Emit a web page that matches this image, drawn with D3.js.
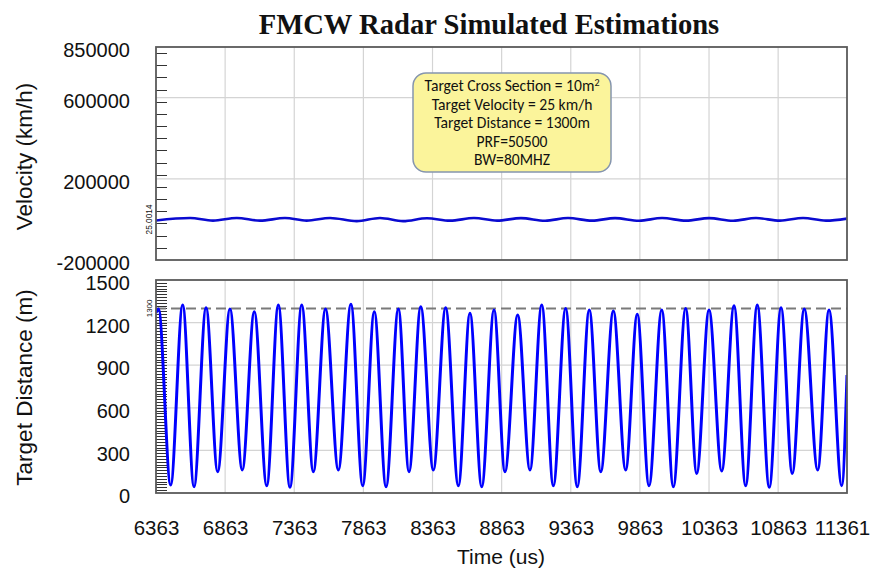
<!DOCTYPE html>
<html>
<head>
<meta charset="utf-8">
<script src="https://cdn.jsdelivr.net/npm/d3@7"></script>
<style>
  body { margin: 0; background: #fff; }
  svg text { font-family: "Liberation Sans", Arial, sans-serif; fill: #111; }
</style>
</head>
<body>
<svg id="chart" width="875" height="568"></svg>
<script>
'use strict';
// tick labels
const xTicks = [6363, 6863, 7363, 7863, 8363, 8863, 9363, 9863, 10363, 10863, 11361];
const velTicks = [-200000, 200000, 600000, 850000];
const distTicks = [0, 300, 600, 900, 1200, 1500];

// velocity estimate (km/h)
const velTime = [6363, 6609, 6775, 6947, 7115, 7296, 7453, 7622, 7815, 7983, 8150, 8323, 8490,
  8663, 8830, 9003, 9177, 9343, 9517, 9683, 9857, 10023, 10197, 10363, 10537, 10703, 10876,
  11043, 11209, 11361];
const velValue = [-5000, 6800, -6000, 6900, -6100, 6800, -6000, 6900, -8500, 6800, -8300, 6000, -6000,
  6800, -6000, 6500, -6500, 6800, -6000, 6600, -6500, 6800, -6000, 6600, -6500, 6800, -6000,
  6800, -6000, 4000];

// distance estimate (m), peaks and valleys
const distTime = [6363, 6381, 6469, 6556, 6638, 6725, 6809, 6898, 6987, 7074, 7164, 7248, 7332,
  7417, 7501, 7589, 7682, 7773, 7858, 7942, 8027, 8116, 8193, 8278, 8369, 8458, 8550, 8634,
  8719, 8808, 8887, 8979, 9068, 9153, 9237, 9326, 9410, 9497, 9580, 9671, 9760, 9844, 9929,
  10021, 10105, 10194, 10274, 10363, 10455, 10544, 10628, 10712, 10799, 10884, 10965, 11052,
  11149, 11231, 11323, 11361];
const distValue = [1270, 1296, 56, 1324, 44, 1305, 150, 1296, 162, 1277, 51, 1324, 40,
  1324, 150, 1296, 162, 1329, 51, 1277, 44, 1296, 150, 1312, 162, 1305, 51, 1265,
  44, 1289, 150, 1254, 162, 1324, 51, 1300, 44, 1289, 150, 1282, 162, 1259, 51,
  1289, 44, 1300, 138, 1289, 155, 1319, 51, 1324, 40, 1305, 138, 1296,
  162, 1289, 51, 831];

const trueVelocity = 25.0014;
const trueDistance = 1300;
const infoLines = ['Target Cross Section = 10m', 'Target Velocity = 25 km/h',
  'Target Distance = 1300m', 'PRF=50500', 'BW=80MHZ'];

const svg = d3.select('#chart');
const left = 156, right = 847;
const panels = [
  { top: 47, bottom: 260 },
  { top: 280, bottom: 493 }
];

const x = d3.scaleLinear().domain([6363, 11361]).range([left, right]);
const yVel = d3.scaleLinear().domain([-200000, 850000]).range([panels[0].bottom, panels[0].top]);
const yDist = d3.scaleLinear().domain([0, 1500]).range([panels[1].bottom, panels[1].top]);
const plain = d => String(d);

svg.append('text')
  .attr('x', 489).attr('y', 34)
  .attr('text-anchor', 'middle')
  .style('font-family', '"Liberation Serif", "Times New Roman", serif')
  .style('font-weight', 'bold')
  .style('font-size', '28.6px')
  .text('FMCW Radar Simulated Estimations');

function drawPanel(p, y, ticks, minor, idx) {
  const g = svg.append('g');
  // grid
  g.selectAll('line.vgrid').data(xTicks.slice(1, -1)).join('line')
    .attr('x1', d => x(d)).attr('x2', d => x(d))
    .attr('y1', p.top).attr('y2', p.bottom)
    .attr('stroke', '#d4d4d4').attr('stroke-width', 1.2);
  g.selectAll('line.hgrid').data(ticks.slice(1, -1)).join('line')
    .attr('x1', left).attr('x2', right)
    .attr('y1', d => y(d)).attr('y2', d => y(d))
    .attr('stroke', '#d4d4d4').attr('stroke-width', 1.2);
  // minor ticks on the inside of the left border
  g.selectAll('line.minor').data(minor).join('line')
    .attr('x1', left).attr('x2', left + 11)
    .attr('y1', d => Math.round(y(d)) + 0.5).attr('y2', d => Math.round(y(d)) + 0.5)
    .attr('stroke', '#333').attr('stroke-width', 1);
  // tick labels
  const ax = g.append('g')
    .attr('transform', `translate(${left},0)`)
    .call(d3.axisLeft(y).tickValues(ticks).tickSize(0).tickPadding(26).tickFormat(plain));
  ax.select('.domain').remove();
  ax.selectAll('text')
    .attr('dy', '0.48em')
    .style('font-family', '"Liberation Sans", Arial, sans-serif')
    .style('font-size', '20px')
    .attr('fill', '#111');
  g.append('clipPath').attr('id', 'clip' + idx)
    .append('rect')
    .attr('x', left).attr('y', p.top)
    .attr('width', right - left).attr('height', p.bottom - p.top);
  return g;
}

const velMinor = d3.range(-140000, 850000, 60000);
const distMinor = d3.range(20, 1500, 20);
const g1 = drawPanel(panels[0], yVel, velTicks, velMinor, 0);
const g2 = drawPanel(panels[1], yDist, distTicks, distMinor, 1);

// velocity series
g1.append('path')
  .datum(velTime.map((t, i) => [t, trueVelocity + velValue[i]]))
  .attr('clip-path', 'url(#clip0)')
  .attr('fill', 'none')
  .attr('stroke', '#0a0ad0')
  .attr('stroke-width', 2.6)
  .attr('d', d3.line().x(d => x(d[0])).y(d => yVel(d[1])).curve(d3.curveMonotoneX));

g1.append('text')
  .attr('transform', `translate(${left - 4},${yVel(trueVelocity)}) rotate(-90)`)
  .attr('text-anchor', 'middle')
  .style('font-size', '8.3px')
  .text(trueVelocity.toFixed(4));

// distance: true value (dashed) and estimate
g2.append('line')
  .attr('x1', left).attr('x2', right)
  .attr('y1', yDist(trueDistance)).attr('y2', yDist(trueDistance))
  .attr('stroke', '#7a7a7a').attr('stroke-width', 2)
  .attr('stroke-dasharray', '10,5');

g2.append('path')
  .datum(distTime.map((t, i) => [t, distValue[i]]))
  .attr('clip-path', 'url(#clip1)')
  .attr('fill', 'none')
  .attr('stroke', '#0000ff')
  .attr('stroke-width', 3)
  .attr('stroke-linejoin', 'round')
  .attr('d', d3.line().x(d => x(d[0])).y(d => yDist(d[1])).curve(d3.curveMonotoneX));

g2.append('text')
  .attr('transform', `translate(${left - 4},${yDist(trueDistance)}) rotate(-90)`)
  .attr('text-anchor', 'middle')
  .style('font-size', '8px')
  .text(trueDistance);

// plot frames
panels.forEach(p => {
  svg.append('rect')
    .attr('x', left).attr('y', p.top)
    .attr('width', right - left).attr('height', p.bottom - p.top)
    .attr('fill', 'none').attr('stroke', '#5a5a5a').attr('stroke-width', 1.8);
});

// x axis labels
const xa = svg.append('g')
  .attr('transform', `translate(0,${panels[1].bottom})`)
  .call(d3.axisBottom(x).tickValues(xTicks).tickSize(0).tickPadding(27).tickFormat(plain));
xa.select('.domain').remove();
xa.selectAll('text')
  .style('font-family', '"Liberation Sans", Arial, sans-serif')
  .style('font-size', '20.5px')
  .attr('fill', '#111');
xa.selectAll('.tick').filter(d => d === 11361).select('text').attr('dx', '-5');

svg.append('text')
  .attr('x', 501).attr('y', 564)
  .attr('text-anchor', 'middle')
  .style('font-size', '21px')
  .text('Time (us)');

svg.append('text')
  .attr('transform', `translate(32,${(panels[0].top + panels[0].bottom) / 2 + 3}) rotate(-90)`)
  .attr('text-anchor', 'middle')
  .style('font-size', '22.5px')
  .text('Velocity (km/h)');

svg.append('text')
  .attr('transform', `translate(32,${(panels[1].top + panels[1].bottom) / 2 + 1}) rotate(-90)`)
  .attr('text-anchor', 'middle')
  .style('font-size', '22.5px')
  .text('Target Distance (m)');

// info box
const box = svg.append('g').attr('transform', 'translate(413,73)');
box.append('rect')
  .attr('width', 198).attr('height', 99)
  .attr('rx', 13).attr('ry', 13)
  .attr('fill', '#fbf49b')
  .attr('stroke', '#8595ae').attr('stroke-width', 1.5);
const tx = box.append('text')
  .attr('text-anchor', 'middle')
  .style('font-family', 'Carlito, Calibri, Lato, sans-serif')
  .style('font-size', '15.6px');
infoLines.forEach((s, i) => {
  const t = tx.append('tspan')
    .attr('x', 99).attr('y', 18 + i * 18.6)
    .text(s);
  if (i === 0) {
    t.append('tspan').attr('dy', '-5').style('font-size', '10px').text('2');
  }
});
</script>
</body>
</html>
